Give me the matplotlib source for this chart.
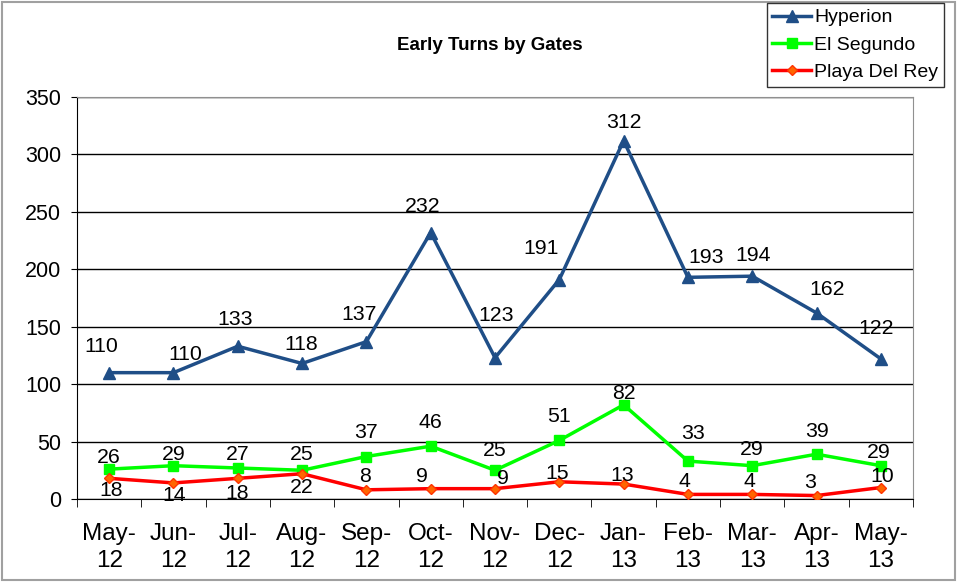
import numpy as np
import matplotlib.pyplot as plt
from matplotlib.patches import Rectangle

plt.rcParams['font.family'] = ['Liberation Sans', 'DejaVu Sans']

# --- DATA ---
months = ['May-\n12', 'Jun-\n12', 'Jul-\n12', 'Aug-\n12', 'Sep-\n12', 'Oct-\n12', 'Nov-\n12',
          'Dec-\n12', 'Jan-\n13', 'Feb-\n13', 'Mar-\n13', 'Apr-\n13', 'May-\n13']
hyperion = [110, 110, 133, 118, 137, 232, 123, 191, 312, 193, 194, 162, 122]
el_segundo = [26, 29, 27, 25, 37, 46, 25, 51, 82, 33, 29, 39, 29]
playa = [18, 14, 18, 22, 8, 9, 9, 15, 13, 4, 4, 3, 10]

# label offsets in pixels (dx, dy), dy positive = up
hyp_off = [(-8, 26), (12, 18), (-3, 27), (-1, 19), (-7, 27), (-8, 26), (1, 42),
           (-18, 31), (0, 18), (18, 20), (1, 21), (11, 23), (-5, 30)]
seg_off = [(0, 12), (0, 11), (0, 13), (0, 16), (0, 24), (0, 24), (0, 20),
           (0, 24), (0, 11), (5, 28), (0, 16), (0, 23), (-2, 13)]
pdr_off = [(2, -12), (1, -13), (-1, -15), (0, -14), (-1, 13), (-9, 12), (8, 10),
           (-2, 8), (-1, 9), (-3, 13), (-3, 13), (-6, 13), (1, 11)]

fig = plt.figure(figsize=(9.61, 5.83), dpi=100)
fig.patches.append(Rectangle((2 / 961, 3 / 583), 953 / 961, 578 / 583, transform=fig.transFigure,
                             fill=False, edgecolor='#a0a0a0', linewidth=1.5))
ax = fig.add_axes([77 / 961, 84 / 583, 836 / 961, 402 / 583])

x = np.arange(len(months))
ax.plot(x, hyperion, color='#1f4e87', lw=2.5, marker='^', ms=8, label='Hyperion', zorder=3)
ax.plot(x, el_segundo, color='#00ff00', lw=2.5, marker='s', ms=7, label='El Segundo', zorder=3)
ax.plot(x, playa, color='#ff0000', lw=2.5, marker='D', ms=5, mfc='#ff6600',
        mec='#ff3300', label='Playa Del Rey', zorder=3)

for series, offs in ((hyperion, hyp_off), (el_segundo, seg_off), (playa, pdr_off)):
    for i, v in enumerate(series):
        ax.annotate(str(v), (i, v), xytext=offs[i], textcoords='offset pixels',
                    ha='center', va='center', fontsize=15.3, zorder=4)

ax.set_xlim(-0.5, len(months) - 0.5)
ax.set_ylim(0, 350)
ax.set_yticks(np.arange(0, 351, 50))
ax.set_xticks(x)
ax.set_xticklabels(months, fontsize=17.5, linespacing=1.3)
ax.set_xticks(np.arange(-0.5, len(months), 1), minor=True)
ax.tick_params(axis='x', which='major', length=0, pad=17)
ax.tick_params(axis='x', which='minor', length=6, direction='out')
ax.tick_params(axis='y', labelsize=15.5, length=4.5, direction='out', pad=7)
ax.yaxis.grid(True, color='black', lw=1)
ax.set_axisbelow(True)
for side in ('top', 'right'):
    ax.spines[side].set_color('#909090')
for side in ('left', 'bottom'):
    ax.spines[side].set_color('black')

fig.text(490 / 961, 1 - 45 / 583, 'Early Turns by Gates', ha='center', va='center',
         fontsize=13.5, fontweight='bold')

leg = fig.legend(loc='upper right', bbox_to_anchor=(944 / 961, 1 - 3 / 583), fontsize=14,
                 frameon=True, fancybox=False, edgecolor='black', borderpad=0.3,
                 handlelength=2.0, handletextpad=0.15, labelspacing=0.5, borderaxespad=0)
leg.get_frame().set_linewidth(1)

fig.savefig('out.png', dpi=100)
